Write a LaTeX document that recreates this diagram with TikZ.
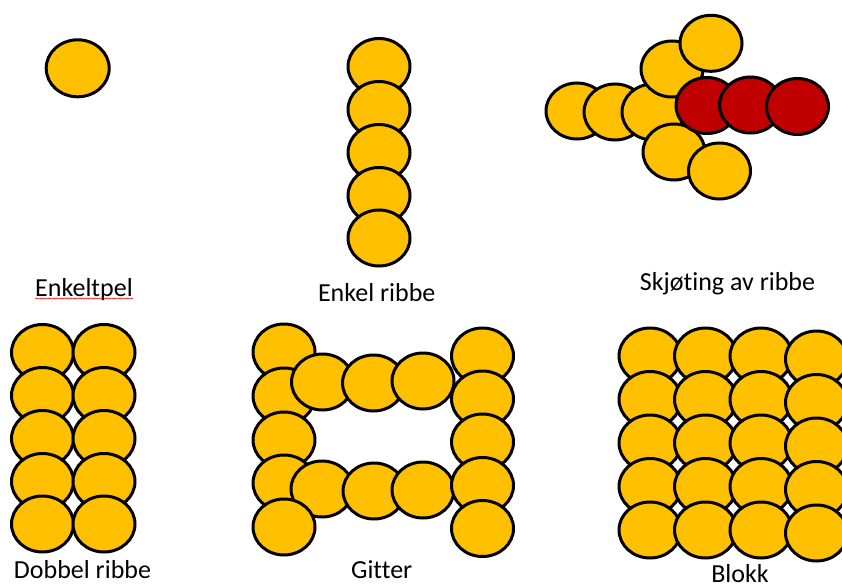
\documentclass[tikz,border=0pt]{standalone}
\usepackage{fontspec}
\setmainfont{Carlito}[Ligatures={NoCommon}]
\usetikzlibrary{shapes.geometric,decorations.pathmorphing}
\definecolor{pilegold}{HTML}{FFC000}
\definecolor{pilered}{HTML}{C00000}
\tikzset{
  pile/.style={ellipse, draw=black, line width=3pt, fill=pilegold,
    minimum width=62pt, minimum height=56pt, inner sep=0pt},
  redpile/.style={pile, fill=pilered},
  caption/.style={anchor=base, inner sep=0pt, font=\fontsize{26}{31}\selectfont},
  spellmark/.style={draw=red!85!black, line width=0.5pt, decorate,
    decoration={snake, amplitude=0.6pt, segment length=2.6pt}}
}
\begin{document}
\begin{tikzpicture}[x=1pt,y=-1pt]
\useasboundingbox (0,0) rectangle (842,588);

% Enkeltpel: single pile
\node[pile, minimum width=63pt, minimum height=57pt] (p1) at (77.7,68.3) {};
\node[caption] (t1) at (84,296) {Enkeltpel};
\draw[spellmark] ([yshift=-2.5pt]t1.base west) -- ([yshift=-2.5pt]t1.base east);

% Enkel ribbe: one column of five piles
\foreach \i/\y in {1/66.5,2/109.5,3/152.5,4/195.5,5/238} {
  \node[pile] (r\i) at (379,\y) {};
}
\node[caption] (t2) at (376.7,301.5) {Enkel ribbe};

% Skjoeting av ribbe: old rib (gold) spliced with new rib (red)
\node[pile] (sa) at (577,111) {};
\node[pile] (sb) at (615,112) {};
\node[pile] (sc) at (653,112) {};
\node[pile] (sd) at (672,69) {};
\node[pile] (se) at (711,43.3) {};
\node[pile] (sf) at (674,152) {};
\node[pile] (sg) at (719.5,171) {};
\node[redpile] (sh) at (707,105.5) {};
\node[redpile] (si) at (750.5,105) {};
\node[redpile] (sj) at (797.5,106.5) {};
\node[caption] (t3) at (727.5,290) {Skjøting av ribbe};

% Dobbel ribbe: two columns of five piles
\foreach \i/\y in {1/352.5,2/395.5,3/438.5,4/481.5,5/524} {
  \node[pile] (da\i) at (42.5,\y) {};
  \node[pile] (db\i) at (104,\y) {};
}
\node[caption] (t4) at (82.5,578) {Dobbel ribbe};

% Gitter: two columns joined by two horizontal ribs
\node[pile] (gl1) at (284,352) {};
\node[pile] (gl2) at (284,396) {};
\node[pile] (gh1) at (322.5,382) {};
\node[pile] (gh2) at (373.5,383) {};
\node[pile] (gh3) at (423,381) {};
\node[pile] (gl3) at (284,440) {};
\node[pile] (gl4) at (284,483) {};
\node[pile] (gk1) at (322,489) {};
\node[pile] (gk2) at (374,491) {};
\node[pile] (gk3) at (423,490) {};
\node[pile] (gl5) at (284,527) {};
\foreach \i/\y in {1/356,2/399,3/442,4/485.5,5/528.5} {
  \node[pile] (gr\i) at (482.5,\y) {};
}
\node[caption] (t5) at (381.7,578) {Gitter};

% Blokk: four by five piles
\foreach \i/\y in {1/356,2/399.5,3/443,4/486.5,5/530} {
  \node[pile] (b1\i) at (650,\y) {};
  \node[pile] (b2\i) at (705.5,\y) {};
  \node[pile] (b3\i) at (761,\y) {};
  \node[pile] (b4\i) at (816.5,\y+3) {};
}
\node[caption] (t6) at (740,582) {Blokk};
\end{tikzpicture}
\end{document}
